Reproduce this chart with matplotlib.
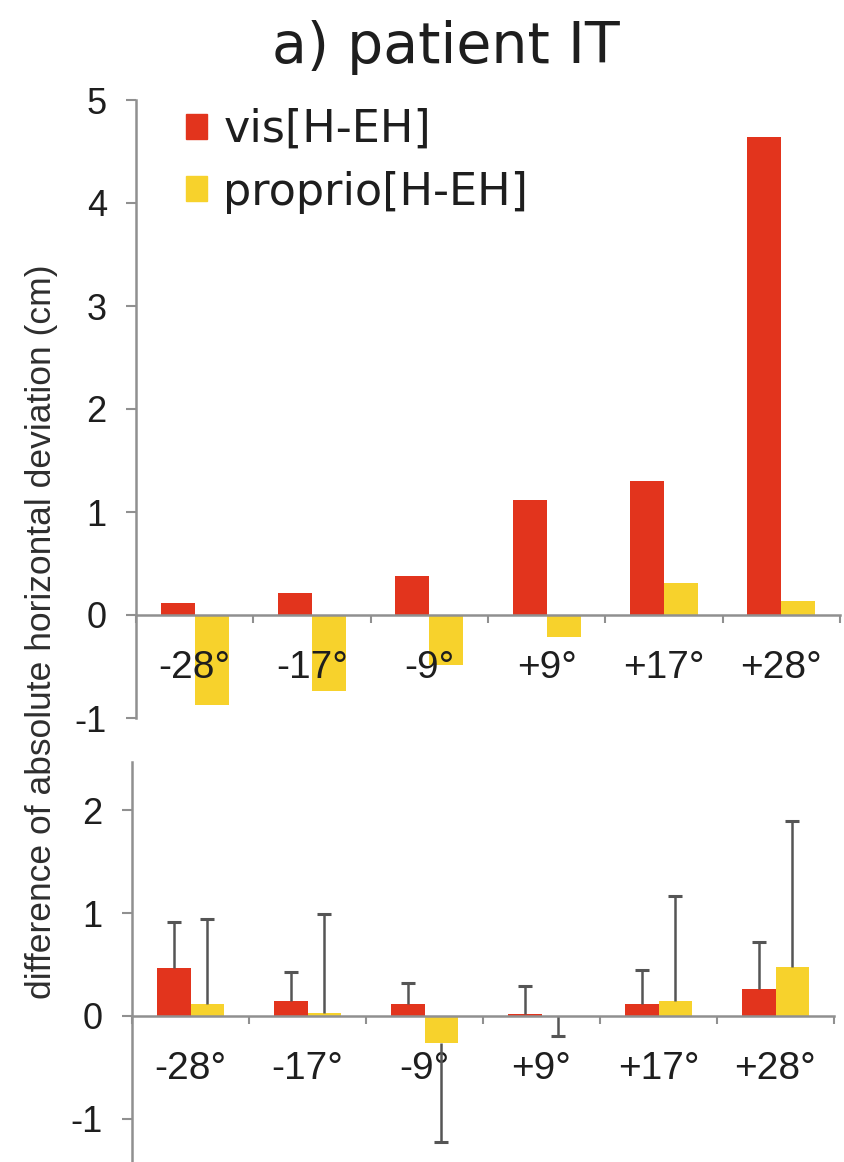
import numpy as np
import matplotlib
matplotlib.use("Agg")
import matplotlib.pyplot as plt
from matplotlib.patches import Patch

# target directions
categories = ["-28°", "-17°", "-9°", "+9°", "+17°", "+28°"]

# single patient, mean differences (cm)
vis_patient = [0.12, 0.21, 0.38, 1.12, 1.30, 4.64]
proprio_patient = [-0.87, -0.74, -0.49, -0.21, 0.31, 0.14]

# control group, mean differences (cm) and one-sided error lengths
vis_controls = [0.47, 0.15, 0.12, 0.02, 0.12, 0.26]
vis_controls_err = [0.44, 0.28, 0.20, 0.27, 0.33, 0.46]
proprio_controls = [0.12, 0.03, -0.26, -0.01, 0.15, 0.48]
proprio_controls_err = [0.82, 0.96, 0.97, 0.18, 1.02, 1.42]

RED = "#e2341d"
YELLOW = "#f7d22c"
AXIS_GREY = "#909090"
ERR_GREY = "#555555"
TEXT = "#1e1e1e"
TICK_FONT = ["Liberation Sans Narrow", "Liberation Sans", "DejaVu Sans"]

W, H = 844, 1162
fig = plt.figure(figsize=(W / 100, H / 100), dpi=100)
fig.patch.set_facecolor("white")


def px_axes(left, top, right, bottom):
    return fig.add_axes([left / W, 1 - bottom / H, (right - left) / W, (bottom - top) / H])


def style_axis(ax, ylim, yticks):
    x = np.arange(len(categories))
    ax.set_xlim(-0.5, len(categories) - 0.5)
    ax.set_ylim(*ylim)
    for s in ("top", "right"):
        ax.spines[s].set_visible(False)
    ax.spines["bottom"].set_position(("data", 0))
    for s in ("left", "bottom"):
        ax.spines[s].set_color(AXIS_GREY)
        ax.spines[s].set_linewidth(1.8)
    # group boundaries carry the tick marks, group centres carry the labels
    ax.set_xticks(np.arange(len(categories) + 1) - 0.5)
    ax.set_xticklabels([])
    ax.set_xticks(x, minor=True)
    ax.set_xticklabels(categories, minor=True, fontsize=28, color=TEXT, family=TICK_FONT)
    ax.tick_params(axis="x", which="major", direction="out", length=6, width=1.5, color=AXIS_GREY)
    ax.tick_params(axis="x", which="minor", length=0, pad=25)
    ax.set_yticks(yticks)
    ax.set_yticklabels([f"{t:g}" for t in yticks], fontsize=26, color=TEXT, family=TICK_FONT)
    ax.tick_params(axis="y", direction="out", length=7, width=1.5, color=AXIS_GREY, pad=14)
    ax.set_facecolor("white")
    return x


def draw_bars(ax, x, vis, prop, width=0.29):
    ax.bar(x - width / 2, vis, width, color=RED, zorder=1)
    ax.bar(x + width / 2, prop, width, color=YELLOW, zorder=1)


# upper panel: patient
ax1 = px_axes(136, 100, 840, 718)
x = style_axis(ax1, (-1, 5), [-1, 0, 1, 2, 3, 4, 5])
draw_bars(ax1, x, vis_patient, proprio_patient)

# lower panel: controls, error bars run away from zero with a cap only at the far end
ax2 = px_axes(132, 762, 834, 1162)
x = style_axis(ax2, (-1.42, 2.47), [-1, 0, 1, 2])
draw_bars(ax2, x, vis_controls, proprio_controls)
for offset, vals, errs in ((-0.145, vis_controls, vis_controls_err),
                           (0.145, proprio_controls, proprio_controls_err)):
    vals = np.array(vals)
    ends = vals + np.sign(np.where(vals == 0, 1, vals)) * np.array(errs)
    ax2.vlines(x + offset, vals, ends, color=ERR_GREY, linewidth=1.8, zorder=3)
    ax2.plot(x + offset, ends, ls="none", marker="_", markersize=10,
             markeredgewidth=2.2, color=ERR_GREY, zorder=3)

handles = [Patch(color=RED, label="vis[H-EH]"), Patch(color=YELLOW, label="proprio[H-EH]")]
ax1.legend(handles=handles, loc="upper left", bbox_to_anchor=(186 / W, 1 - 108 / H),
           bbox_transform=fig.transFigure, frameon=False, fontsize=32,
           handlelength=0.48, handleheight=0.48, handletextpad=0.36,
           labelspacing=0.44, borderpad=0, borderaxespad=0, labelcolor=TEXT)

fig.text(446 / W, 1 - 63 / H, "a) patient IT", ha="center", va="baseline",
         fontsize=41, color=TEXT, family="DejaVu Sans")
fig.text(42 / W, 1 - 632 / H, "difference of absolute horizontal deviation (cm)",
         rotation=90, ha="center", va="center", fontsize=25.5, color="#2e2e2e",
         family=TICK_FONT)

fig.savefig("out.png", dpi=100)
